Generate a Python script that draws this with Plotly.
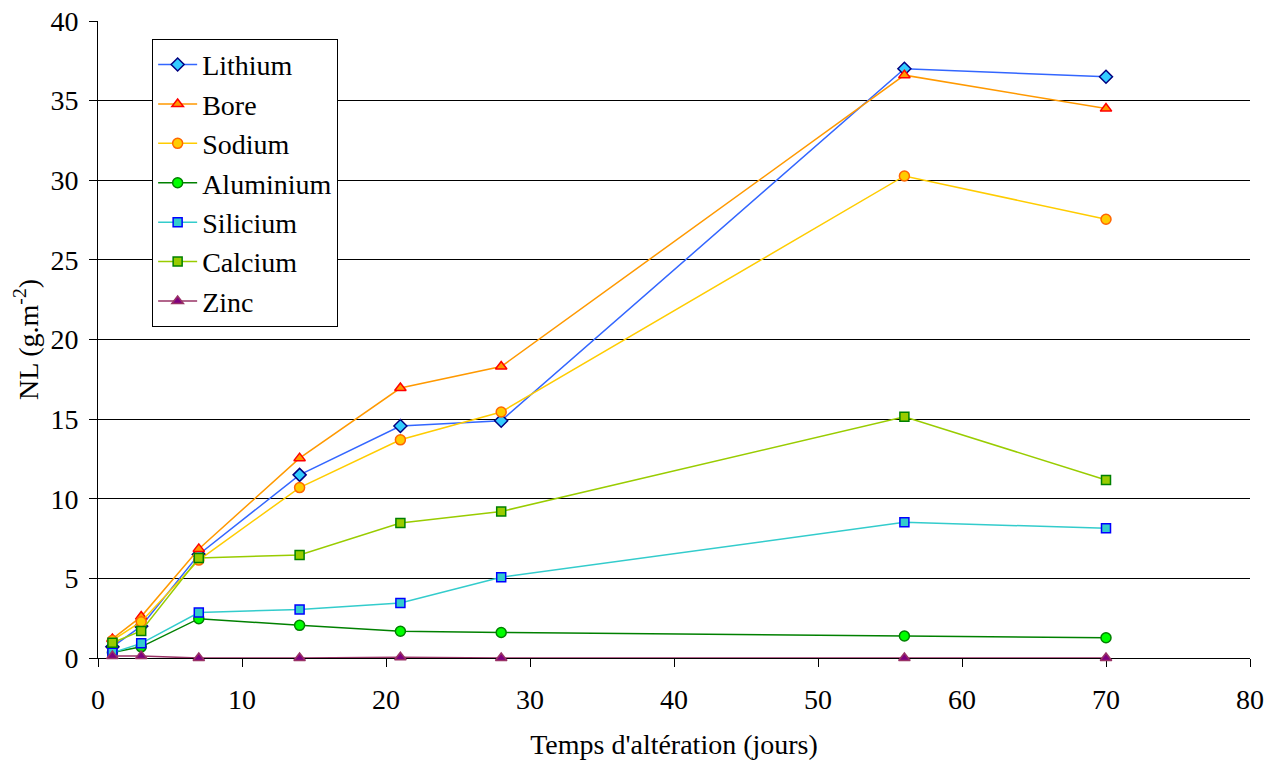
import plotly.graph_objects as go

days = [1, 3, 7, 14, 21, 28, 56, 70]
lithium = [0.7, 2.0, 6.5, 11.5, 14.57, 14.9, 37.0, 36.5]
bore = [1.2, 2.6, 6.85, 12.55, 16.95, 18.3, 36.6, 34.5]
sodium = [1.1, 2.28, 6.15, 10.7, 13.7, 15.45, 30.27, 27.55]
aluminium = [0.35, 0.7, 2.47, 2.05, 1.68, 1.6, 1.38, 1.27]
silicium = [0.33, 0.92, 2.85, 3.05, 3.45, 5.07, 8.52, 8.15]
calcium = [0.96, 1.7, 6.28, 6.47, 8.48, 9.2, 15.15, 11.18]
zinc = [0.12, 0.12, 0.0, 0.0, 0.05, 0.0, 0.0, 0.0]

series = [
    ("Lithium", lithium, "#3366FF", "diamond", "#33CCFF", "#000080", 10),
    ("Bore", bore, "#FF9900", "triangle-up", "#FF9900", "#FF0000", 10),
    ("Sodium", sodium, "#FFCC00", "circle", "#FFCC00", "#FF6600", 10),
    ("Aluminium", aluminium, "#008000", "circle", "#00FF00", "#008000", 10),
    ("Silicium", silicium, "#33CCCC", "square", "#33CCCC", "#0000FF", 9),
    ("Calcium", calcium, "#99CC00", "square", "#99CC00", "#008000", 9),
    ("Zinc", zinc, "#993366", "triangle-up", "#800080", "#993366", 10),
]

fig = go.Figure()
for name, vals, lc, sym, fc, bc, sz in series:
    fig.add_trace(go.Scatter(
        x=days, y=vals, name=name, mode="lines+markers", cliponaxis=False,
        line=dict(color=lc, width=1.5),
        marker=dict(symbol=sym, color=fc, size=sz, line=dict(color=bc, width=1.5)),
    ))

font = dict(family="Liberation Serif, Times New Roman, serif", size=28, color="black")
fig.update_layout(
    width=1273, height=760,
    margin=dict(l=98, r=23, t=21, b=102, autoexpand=False),
    paper_bgcolor="white", plot_bgcolor="white",
    font=font,
    showlegend=True,
    legend=dict(x=0.047, y=0.972, xanchor="left", yanchor="top",
                bgcolor="white", bordercolor="black", borderwidth=1,
                font=font, tracegroupgap=0, itemwidth=39),
    xaxis=dict(range=[0, 80], dtick=10, tick0=0, showgrid=False,
               showline=True, linecolor="black", linewidth=1,
               ticks="outside", ticklen=8, tickcolor="black",
               ticklabelstandoff=8, ticklabeloverflow="allow",
               automargin=False,
               zeroline=False, layer="below traces",
               title=dict(text="Temps d'altération (jours)", font=font, standoff=33)),
    yaxis=dict(range=[0, 40], dtick=5, tick0=0, showgrid=True,
               gridcolor="black", gridwidth=1,
               showline=True, linecolor="black", linewidth=1,
               ticks="outside", ticklen=8, tickcolor="black",
               ticklabelstandoff=5, ticklabeloverflow="allow",
               automargin=False,
               zeroline=False, layer="below traces",
               title=dict(text="NL (g.m<sup>-2</sup>)", font=font, standoff=3)),
)

fig.write_html("out.html", config={"displayModeBar": False},
               post_script="document.body.style.margin='0';")
